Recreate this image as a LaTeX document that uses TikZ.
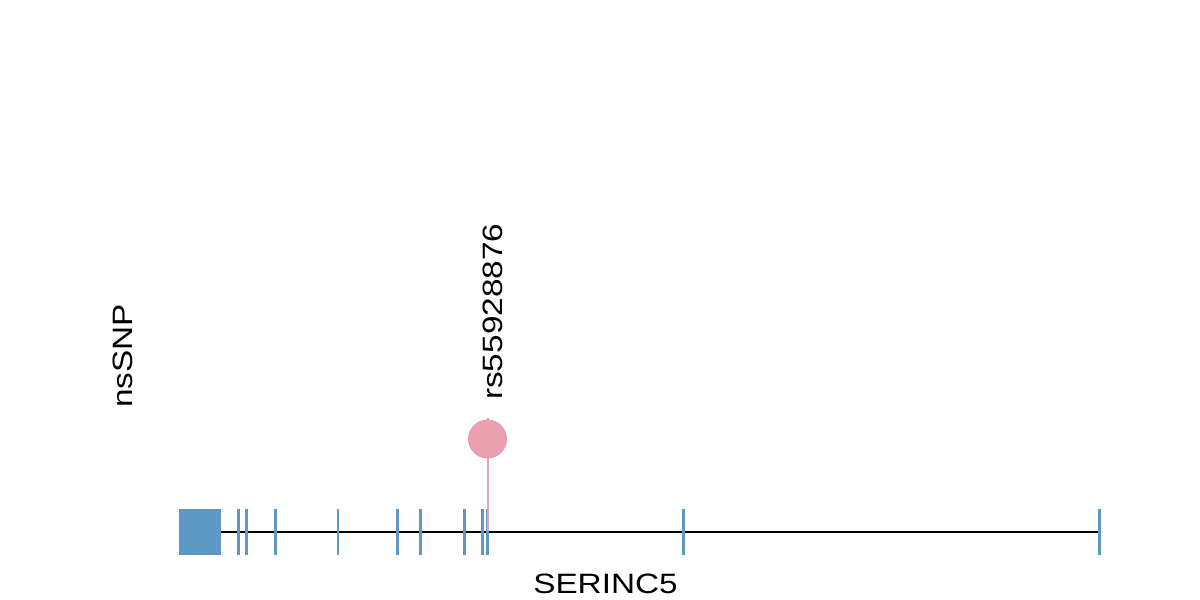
\documentclass[tikz,border=0pt]{standalone}
\usepackage{fontspec}
\setmainfont{Liberation Sans}
\newfontfamily\plotfont[FakeStretch=1.19]{Liberation Sans}
\definecolor{exonblue}{HTML}{5E98C4}
\definecolor{snppink}{HTML}{E9A1B0}
\definecolor{snpedge}{HTML}{E497A8}
\begin{document}
\begin{tikzpicture}[x=1pt,y=-1pt,
  exon/.style={draw=exonblue,line width=2.8pt},
  backbone/.style={draw=black,line width=2pt},
  lbl/.style={font=\plotfont\fontsize{28}{34}\selectfont,inner sep=0pt},
  stem/.style={draw=snppink,line width=2pt},
  snp/.style={circle,fill=snppink,draw=snpedge,line width=0.8pt,minimum size=38pt,inner sep=0pt}]
\useasboundingbox[fill=white] (0,0) rectangle (1200,600);
\coordinate (ls) at (179,531.5);
\coordinate (le) at (1099.5,531.5);
\draw[backbone] (ls) -- (le);
\node[fill=exonblue,minimum width=41.5pt,minimum height=46.5pt,inner sep=0pt,anchor=north west] (utr) at (179,508.5) {};
\foreach \xx in {238.3,246.7,275.3,338,397.3,420.7,464.3,482.7,487.7,683.3,1099.3}{
  \draw[exon] (\xx,508.5) -- (\xx,555);
}
\coordinate (stemtop) at (487.5,418);
\coordinate (stembot) at (487.5,531);
\draw[stem] (stemtop) -- (stembot);
\node[snp] (snp1) at (487.5,439) {};
\node[lbl,rotate=90,anchor=base west] (snplbl) at (502,400) {rs55928876};
\node[lbl,rotate=90,anchor=base] (track) at (132,356) {nsSNP};
\node[lbl,anchor=base] (gene) at (605.5,593.3) {SERINC5};
\end{tikzpicture}
\end{document}
